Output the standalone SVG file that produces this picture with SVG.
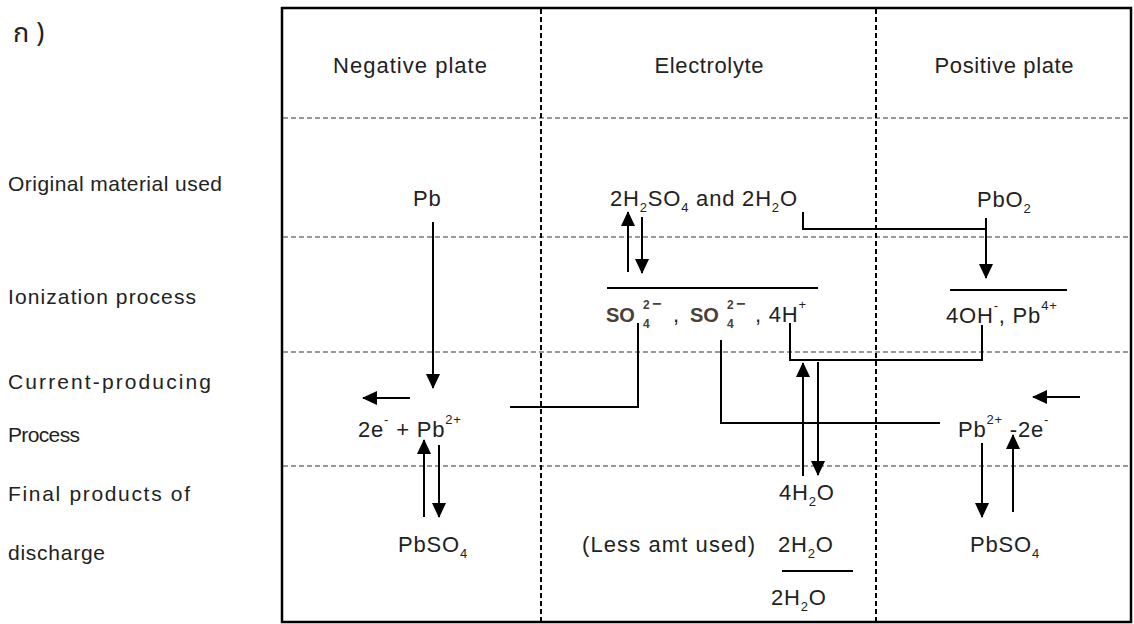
<svg xmlns="http://www.w3.org/2000/svg" width="1134" height="624" viewBox="0 0 1134 624">
<style>
.t{font-family:"Liberation Sans",Arial,sans-serif;font-size:22px;fill:#222}
.f{letter-spacing:0.8px}
.lab{font-size:21px}
.s{font-size:13px}
.b{font-family:"Liberation Sans",Arial,sans-serif;font-weight:bold;fill:#4a4038}
.bs{font-family:"Liberation Sans",Arial,sans-serif;font-weight:bold;font-size:12px;fill:#4a4038}
.grid{stroke:#333;stroke-width:1.2;stroke-dasharray:5 3;fill:none}
.vgrid{stroke:#000;stroke-width:2;stroke-dasharray:5 3;fill:none}
.ln{stroke:#000;stroke-width:2;fill:none}
.ar{stroke:#000;stroke-width:2;fill:none;marker-end:url(#ah)}
</style>
<defs>
<marker id="ah" markerUnits="userSpaceOnUse" markerWidth="15" markerHeight="14" refX="14" refY="7" orient="auto">
<path d="M0,0 L15,7 L0,14 z" fill="#000"/>
</marker>
</defs>
<rect width="1134" height="624" fill="#fff"/>

<g id="label-ko">
<text x="13" y="42" class="t" style="font-family:'Noto Sans Thai','Loma','Garuda','Norasi','Liberation Sans',sans-serif;font-size:27px">ก )</text>
</g>

<g id="table">
<rect x="282" y="8" width="849" height="614" fill="none" stroke="#000" stroke-width="2.5"/>
<line class="grid" x1="283" y1="118" x2="1130" y2="118"/>
<line class="grid" x1="283" y1="237" x2="1130" y2="237"/>
<line class="grid" x1="283" y1="352" x2="1130" y2="352"/>
<line class="grid" x1="283" y1="466" x2="1130" y2="466"/>
<line class="vgrid" x1="541" y1="9" x2="541" y2="621"/>
<line class="vgrid" x1="876" y1="9" x2="876" y2="621"/>
</g>

<g id="row-labels">
<text class="t lab" x="8" y="191" textLength="214" lengthAdjust="spacing">Original material used</text>
<text class="t lab" x="8" y="304" textLength="188" lengthAdjust="spacing">Ionization process</text>
<text class="t lab" x="8" y="389" textLength="203" lengthAdjust="spacing">Current-producing</text>
<text class="t lab" x="8" y="442" textLength="72" lengthAdjust="spacing">Process</text>
<text class="t lab" x="8" y="501" textLength="182" lengthAdjust="spacing">Final products of</text>
<text class="t lab" x="8" y="560" textLength="97" lengthAdjust="spacing">discharge</text>
</g>

<g id="header-negative"><text class="t" x="410" y="73" text-anchor="middle" textLength="154" lengthAdjust="spacing">Negative plate</text></g>
<g id="header-electrolyte"><text class="t" x="709" y="73" text-anchor="middle" textLength="109" lengthAdjust="spacing">Electrolyte</text></g>
<g id="header-positive"><text class="t" x="1004" y="73" text-anchor="middle" textLength="139" lengthAdjust="spacing">Positive plate</text></g>

<g id="node-pb"><text class="t f" x="413" y="206">Pb</text></g>

<g id="node-h2so4">
<text class="t f" x="610" y="206">2H<tspan class="s" dy="6">2</tspan><tspan dy="-6">SO</tspan><tspan class="s" dy="6">4</tspan><tspan dy="-6"> and 2H</tspan><tspan class="s" dy="6">2</tspan><tspan dy="-6">O</tspan></text>
</g>

<g id="node-pbo2">
<text class="t f" x="977" y="207">PbO<tspan class="s" dy="6">2</tspan></text>
</g>

<g id="node-ions">
<line class="ln" x1="607" y1="288" x2="818" y2="288"/>
<text class="t"><tspan class="b" x="606" y="322" font-size="20">SO</tspan><tspan class="bs" x="643" y="309">2</tspan><tspan class="bs" x="643" y="328">4</tspan><tspan class="b" x="652" y="309" font-size="16">−</tspan><tspan x="673" y="322">,</tspan><tspan class="b" x="690" y="322" font-size="20">SO</tspan><tspan class="bs" x="727" y="309">2</tspan><tspan class="bs" x="727" y="328">4</tspan><tspan class="b" x="736" y="309" font-size="16">−</tspan><tspan x="755" y="322" class="f">, 4H</tspan><tspan class="s" dy="-13">+</tspan></text>
</g>

<g id="node-oh-pb4">
<line class="ln" x1="950" y1="290" x2="1067" y2="290"/>
<text class="t f" x="946" y="323">4OH<tspan class="s" dy="-13">-</tspan><tspan dy="13">, Pb</tspan><tspan class="s" dy="-13">4+</tspan></text>
</g>

<g id="node-neg-current">
<text class="t f" x="358" y="437">2e<tspan class="s" dy="-13">-</tspan><tspan dy="13"> + Pb</tspan><tspan class="s" dy="-13">2+</tspan></text>
</g>

<g id="node-pos-current">
<text class="t f" x="958" y="437">Pb<tspan class="s" dy="-13">2+</tspan><tspan dy="13"> -2e</tspan><tspan class="s" dy="-13">-</tspan></text>
</g>

<g id="node-neg-pbso4">
<text class="t f" x="398" y="552">PbSO<tspan class="s" dy="6">4</tspan></text>
</g>

<g id="node-pos-pbso4">
<text class="t f" x="970" y="552">PbSO<tspan class="s" dy="6">4</tspan></text>
</g>

<g id="node-4h2o">
<text class="t f" x="779" y="500">4H<tspan class="s" dy="6">2</tspan><tspan dy="-6">O</tspan></text>
</g>

<g id="node-less">
<text class="t" x="582" y="552" textLength="173" lengthAdjust="spacing">(Less amt used)</text>
<text class="t f" x="778" y="552">2H<tspan class="s" dy="6">2</tspan><tspan dy="-6">O</tspan></text>
<line class="ln" x1="782" y1="571" x2="853" y2="571"/>
<text class="t f" x="771" y="605">2H<tspan class="s" dy="6">2</tspan><tspan dy="-6">O</tspan></text>
</g>

<g id="connectors">
<line class="ar" x1="433" y1="222" x2="433" y2="388"/>
<line class="ar" x1="628" y1="272" x2="628" y2="212"/>
<line class="ar" x1="642" y1="217" x2="642" y2="273"/>
<line class="ar" x1="986" y1="218" x2="986" y2="278"/>
<line class="ar" x1="410" y1="398" x2="363" y2="398"/>
<line class="ar" x1="1080" y1="397" x2="1033" y2="397"/>
<line class="ar" x1="803" y1="476" x2="803" y2="363"/>
<line class="ar" x1="818" y1="362" x2="818" y2="475"/>
<line class="ar" x1="424" y1="517" x2="424" y2="440"/>
<line class="ar" x1="439" y1="445" x2="439" y2="517"/>
<line class="ar" x1="982" y1="443" x2="982" y2="517"/>
<line class="ar" x1="1013" y1="512" x2="1013" y2="435"/>
<polyline class="ln" points="803,212 803,229 986,229"/>
<polyline class="ln" points="638,323 638,407 510,407"/>
<polyline class="ln" points="721,340 721,423 940,423"/>
<polyline class="ln" points="790,323 790,360 982,360 982,325"/>
</g>
</svg>
